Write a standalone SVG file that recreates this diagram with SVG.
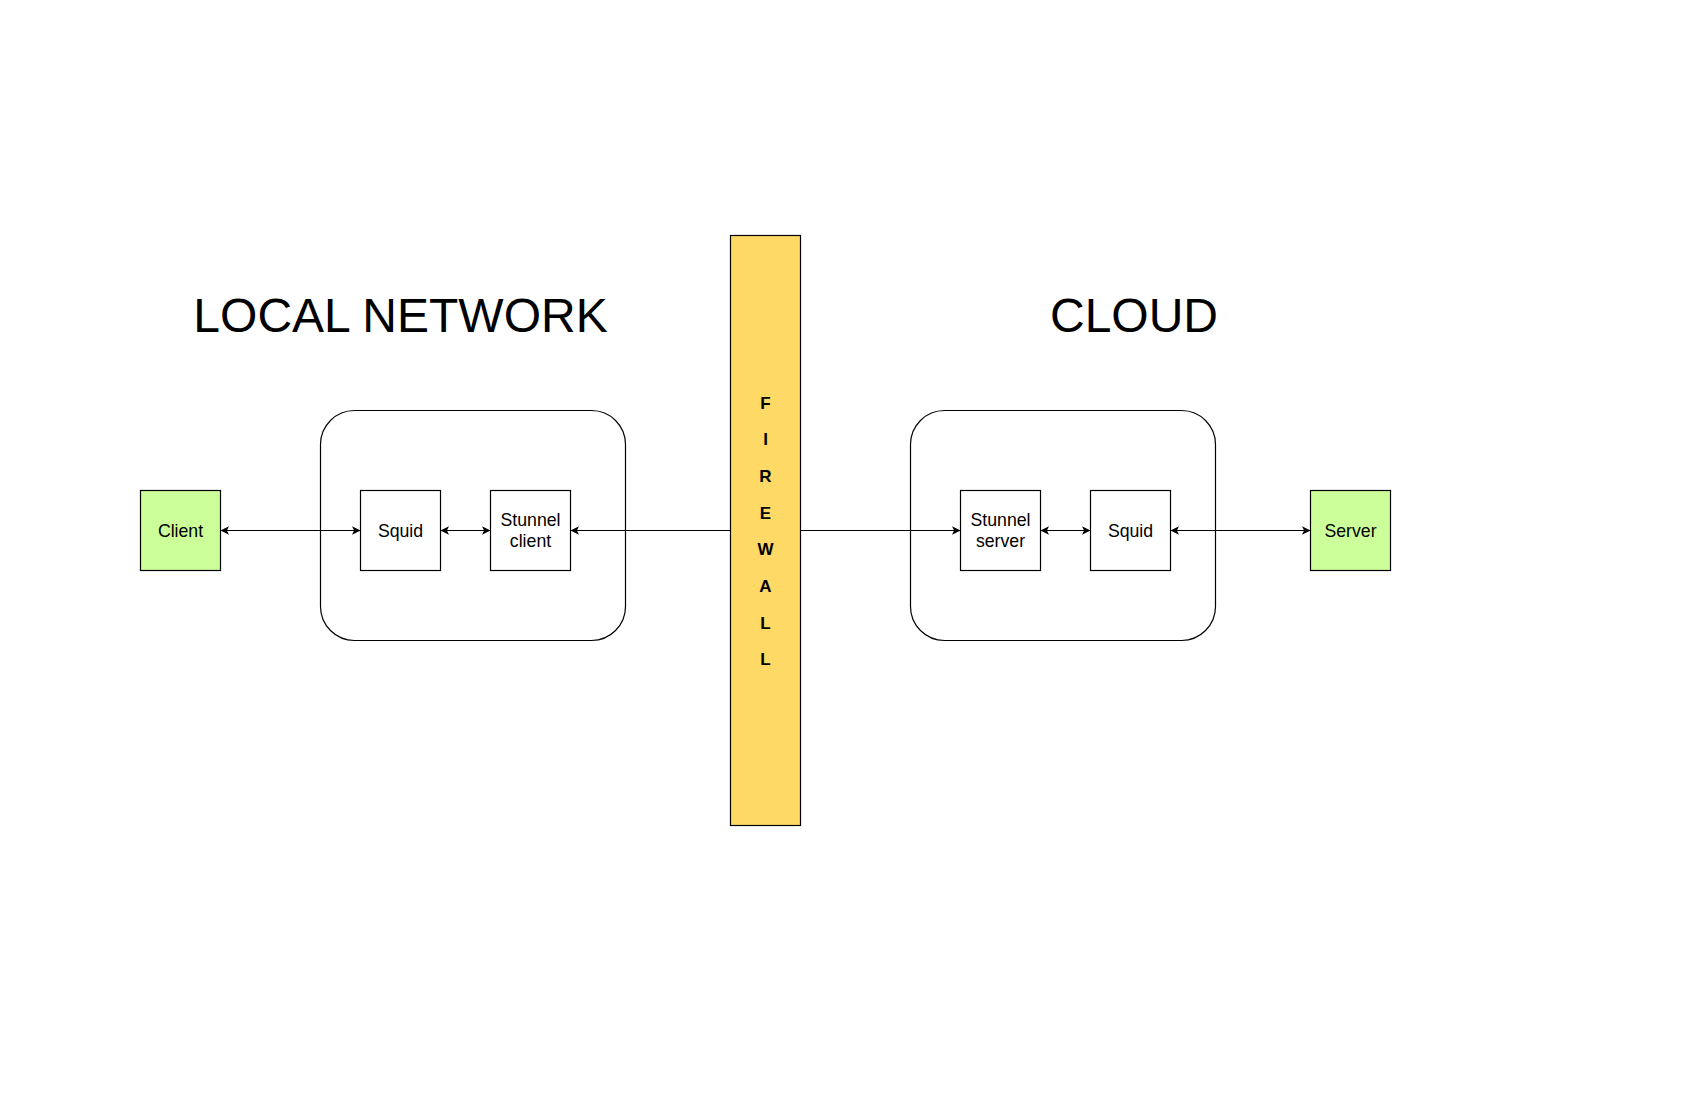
<svg xmlns="http://www.w3.org/2000/svg" width="1700" height="1100" viewBox="0 0 1700 1100">
  <style>
    .box { fill: #ffffff; stroke: #000000; stroke-width: 1.2; }
    .green { fill: #CCFF99; stroke: #000000; stroke-width: 1.2; }
    .container { fill: none; stroke: #000000; stroke-width: 1.2; }
    .fw { fill: #FFD966; stroke: #000000; stroke-width: 1.2; }
    .lbl { font-family: "Liberation Sans", Arial, sans-serif; font-size: 17.7px; fill: #000000; text-anchor: middle; }
    .title { font-family: "Liberation Sans", Arial, sans-serif; font-size: 48px; fill: #000000; text-anchor: middle; }
    .fwt { font-family: "Liberation Sans", Arial, sans-serif; font-size: 17px; font-weight: bold; fill: #000000; text-anchor: middle; }
    .edge { stroke: #000000; stroke-width: 1.2; fill: none; }
  </style>
  <defs>
    <marker id="arrEnd" markerUnits="userSpaceOnUse" markerWidth="10" markerHeight="10" viewBox="0 0 10 10" refX="9" refY="5" orient="auto">
      <path d="M0.5,0.8 L9,5 L0.5,9.2 L2.6,5 z" fill="#000000"/>
    </marker>
    <marker id="arrStart" markerUnits="userSpaceOnUse" markerWidth="10" markerHeight="10" viewBox="0 0 10 10" refX="1" refY="5" orient="auto">
      <path d="M9.5,0.8 L1,5 L9.5,9.2 L7.4,5 z" fill="#000000"/>
    </marker>
  </defs>
  <rect width="1700" height="1100" fill="#ffffff"/>

  <g id="title-local"><text class="title" x="400.5" y="332">LOCAL NETWORK</text></g>
  <g id="title-cloud"><text class="title" x="1134" y="332">CLOUD</text></g>

  <g id="local-container"><rect class="container" x="320.5" y="410.5" width="305" height="230" rx="34" ry="34"/></g>
  <g id="cloud-container"><rect class="container" x="910.5" y="410.5" width="305" height="230" rx="34" ry="34"/></g>

  <g id="firewall">
    <rect class="fw" x="730.5" y="235.5" width="70" height="590"/>
    <text class="fwt" x="765.5" y="408.5">F</text>
    <text class="fwt" x="765.5" y="445.2">I</text>
    <text class="fwt" x="765.5" y="481.9">R</text>
    <text class="fwt" x="765.5" y="518.6">E</text>
    <text class="fwt" x="765.5" y="555.3">W</text>
    <text class="fwt" x="765.5" y="592">A</text>
    <text class="fwt" x="765.5" y="628.7">L</text>
    <text class="fwt" x="765.5" y="665.4">L</text>
  </g>

  <g id="connectors">
    <line class="edge" x1="220.5" y1="530.5" x2="360.5" y2="530.5" marker-start="url(#arrStart)" marker-end="url(#arrEnd)"/>
    <line class="edge" x1="440.5" y1="530.5" x2="490.5" y2="530.5" marker-start="url(#arrStart)" marker-end="url(#arrEnd)"/>
    <line class="edge" x1="730.5" y1="530.5" x2="570.5" y2="530.5" marker-end="url(#arrEnd)"/>
    <line class="edge" x1="800.5" y1="530.5" x2="960.5" y2="530.5" marker-end="url(#arrEnd)"/>
    <line class="edge" x1="1040.5" y1="530.5" x2="1090.5" y2="530.5" marker-start="url(#arrStart)" marker-end="url(#arrEnd)"/>
    <line class="edge" x1="1170.5" y1="530.5" x2="1310.5" y2="530.5" marker-start="url(#arrStart)" marker-end="url(#arrEnd)"/>
  </g>

  <g id="client">
    <rect class="green" x="140.5" y="490.5" width="80" height="80"/>
    <text class="lbl" x="180.5" y="536.5">Client</text>
  </g>
  <g id="squid-local">
    <rect class="box" x="360.5" y="490.5" width="80" height="80"/>
    <text class="lbl" x="400.5" y="536.5">Squid</text>
  </g>
  <g id="stunnel-client">
    <rect class="box" x="490.5" y="490.5" width="80" height="80"/>
    <text class="lbl" x="530.5" y="525.5">Stunnel</text>
    <text class="lbl" x="530.5" y="546.7">client</text>
  </g>
  <g id="stunnel-server">
    <rect class="box" x="960.5" y="490.5" width="80" height="80"/>
    <text class="lbl" x="1000.5" y="525.5">Stunnel</text>
    <text class="lbl" x="1000.5" y="546.7">server</text>
  </g>
  <g id="squid-cloud">
    <rect class="box" x="1090.5" y="490.5" width="80" height="80"/>
    <text class="lbl" x="1130.5" y="536.5">Squid</text>
  </g>
  <g id="server">
    <rect class="green" x="1310.5" y="490.5" width="80" height="80"/>
    <text class="lbl" x="1350.5" y="536.5">Server</text>
  </g>
</svg>
